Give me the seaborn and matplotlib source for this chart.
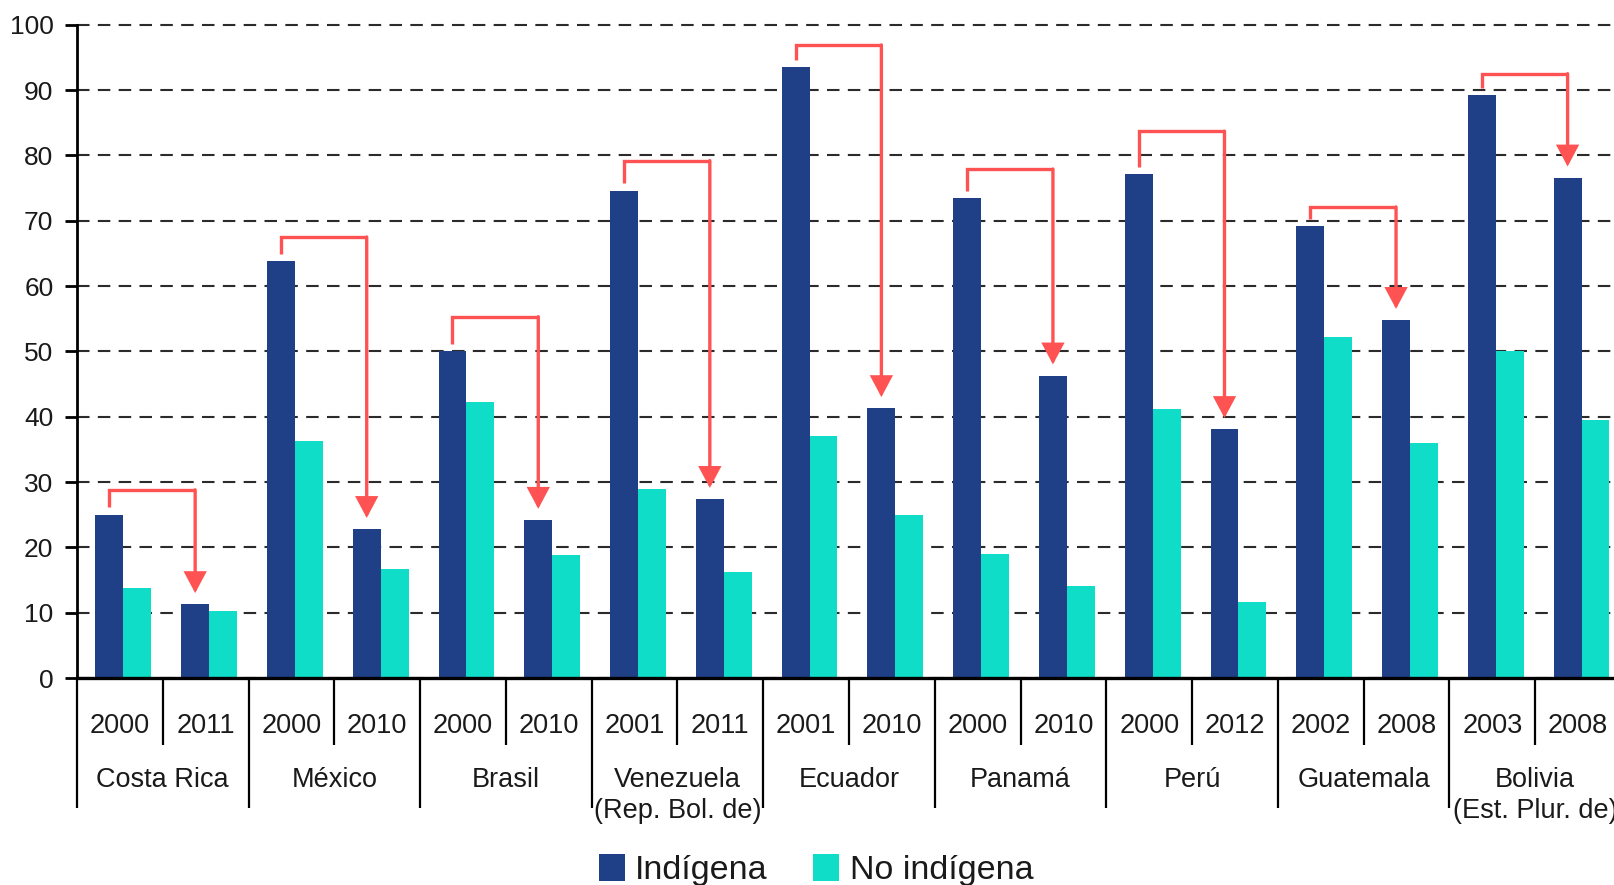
#!/usr/bin/env python3
"""
Grouped bars: indigenous vs non-indigenous share by country and survey year,
with red bracket arrows linking the two Indígena bars of each country.
"""

import matplotlib

matplotlib.use("Agg")
import matplotlib.pyplot as plt
import matplotlib.transforms as mtransforms
from matplotlib.patches import Patch
import pandas as pd
import seaborn as sns


COUNTRIES = [
    "Costa Rica",
    "México",
    "Brasil",
    "Venezuela\n(Rep. Bol. de)",
    "Ecuador",
    "Panamá",
    "Perú",
    "Guatemala",
    "Bolivia\n(Est. Plur. de)",
]
YEARS = [
    "2000", "2011", "2000", "2010", "2000", "2010", "2001", "2011", "2001",
    "2010", "2000", "2010", "2000", "2012", "2002", "2008", "2003", "2008",
]
INDIGENA = [
    25.0, 11.3, 63.8, 22.8, 50.1, 24.2, 74.6, 27.4, 93.5,
    41.3, 73.4, 46.3, 77.1, 38.1, 69.2, 54.8, 89.2, 76.6,
]
NO_INDIGENA = [
    13.7, 10.3, 36.3, 16.7, 42.3, 18.8, 28.9, 16.3, 37.0,
    24.9, 19.0, 14.1, 41.1, 11.7, 52.2, 35.9, 50.0, 39.5,
]
# height of the bracket joining the two Indígena bars of each country
ARROW_LEVEL = [28.8, 67.5, 55.3, 79.2, 96.9, 77.9, 83.7, 72.1, 92.5]

SERIES = ["Indígena", "No indígena"]
COLORS = {"Indígena": "#1F3F87", "No indígena": "#10DDC8"}
RED = "#FF5252"

W, H = 1614, 885
BAR_SHIFT = 0.04  # bar pairs sit a little right of the cell centre


def main() -> None:
    sns.set_style("white")
    plt.rcParams["font.family"] = ["Liberation Sans", "DejaVu Sans"]

    cells = [f"{i:02d}" for i in range(len(YEARS))]
    df = pd.DataFrame(
        {
            "cell": cells * 2,
            "value": INDIGENA + NO_INDIGENA,
            "serie": [SERIES[0]] * len(cells) + [SERIES[1]] * len(cells),
        }
    )

    fig = plt.figure(figsize=(W / 100, H / 100), dpi=100)
    left, right, top, bottom = 77, 1621, 24.7, 678
    ax = fig.add_axes(
        [left / W, 1 - bottom / H, (right - left) / W, (bottom - top) / H]
    )

    sns.barplot(
        data=df,
        x="cell",
        y="value",
        hue="serie",
        order=cells,
        hue_order=SERIES,
        palette=COLORS,
        width=0.65,
        errorbar=None,
        saturation=1,
        edgecolor="none",
        linewidth=0,
        ax=ax,
    )
    if ax.get_legend() is not None:
        ax.get_legend().remove()
    for bar in ax.patches:
        bar.set_x(bar.get_x() + BAR_SHIFT)

    ax.set_xlim(-0.5, len(cells) - 0.5)
    ax.set_ylim(0, 100)
    ax.set_yticks(range(0, 101, 10))
    ax.set_xlabel("")
    ax.set_ylabel("")
    ax.tick_params(axis="x", bottom=False, labelbottom=False)
    ax.tick_params(
        axis="y", left=True, length=9, width=2, pad=8, labelsize=19,
        labelcolor="#1a1a1a", color="black",
    )

    ax.set_axisbelow(True)
    ax.grid(axis="y", color="#2b2b2b", linewidth=1.5, linestyle=(0, (6, 4)))
    ax.grid(axis="x", visible=False)
    for gl in ax.get_ygridlines():
        gl.set_clip_on(False)
    for side in ("top", "right"):
        ax.spines[side].set_visible(False)
    ax.spines["left"].set_linewidth(2)
    ax.spines["left"].set_color("black")
    ax.spines["bottom"].set_linewidth(2.4)
    ax.spines["bottom"].set_color("black")

    # category labels below the axis: years, then countries, with separators
    trans = mtransforms.blended_transform_factory(ax.transData, ax.transAxes)
    px = 1.0 / (bottom - top)  # one pixel in axes fraction
    for i, year in enumerate(YEARS):
        ax.text(i, -(726 - bottom) * px, year, transform=trans,
                ha="center", va="center", fontsize=19.5, color="#1a1a1a")
        if i % 2 == 0:
            ax.plot([i + 0.5, i + 0.5], [0, -(745 - bottom) * px], transform=trans,
                    color="black", lw=1.6, clip_on=False, solid_capstyle="butt")
    for k, name in enumerate(COUNTRIES):
        lines = name.split("\n")
        for j, line in enumerate(lines):
            ax.text(2 * k + 0.5, -(780 - bottom + 31 * j) * px, line,
                    transform=trans, ha="center", va="center",
                    fontsize=19.5, color="#1a1a1a")
    for k in range(len(COUNTRIES) + 1):
        xs = 2 * k - 0.5
        ax.plot([xs, xs], [0, -(808 - bottom) * px], transform=trans,
                color="black", lw=1.6, clip_on=False, solid_capstyle="butt")

    # red bracket arrows between the two Indígena bars of each country
    off = 0.65 / 4 - BAR_SHIFT
    for k, level in enumerate(ARROW_LEVEL):
        x1 = 2 * k - off
        x2 = 2 * k + 1 - off
        start = INDIGENA[2 * k] + 1.1
        tip = INDIGENA[2 * k + 1] + 1.7
        ax.plot([x1, x1, x2], [start, level, level], color=RED, lw=2.4,
                solid_joinstyle="miter", solid_capstyle="butt", zorder=5)
        ax.annotate(
            "", xy=(x2, tip), xytext=(x2, level),
            arrowprops=dict(arrowstyle="-|>,head_length=0.6,head_width=0.32",
                            mutation_scale=20, color=RED, lw=2.4,
                            shrinkA=0, shrinkB=0, joinstyle="miter"),
            zorder=5,
        )

    handles = [Patch(facecolor=COLORS[s], edgecolor="none") for s in SERIES]
    fig.legend(
        handles, SERIES, loc="center", bbox_to_anchor=(816 / W, 1 - 870 / H),
        ncol=2, frameon=False, fontsize=24.5, handlelength=0.76,
        handleheight=0.85, handletextpad=0.3, columnspacing=1.35,
        labelcolor="#1a1a1a",
    )

    fig.savefig("out.png", dpi=100)
    plt.close(fig)


if __name__ == "__main__":
    main()
